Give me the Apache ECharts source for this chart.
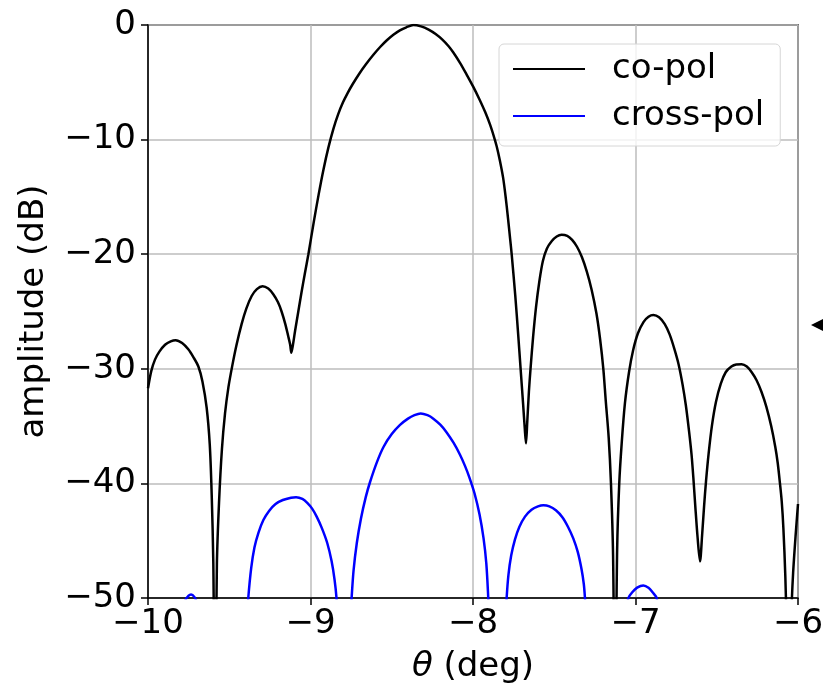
<!DOCTYPE html>
<html>
<head>
<meta charset="utf-8">
<script src="https://cdn.jsdelivr.net/npm/echarts@6/dist/echarts.min.js"></script>
<style>
  html, body { margin: 0; padding: 0; background: #fff; }
  #chart { width: 823px; height: 685px; }
</style>
</head>
<body>
<div id="chart"></div>
<script>
// values: [theta (deg), amplitude (dB)]
var xTicks = [-10, -9, -8, -7, -6];
var yTicks = [-50, -40, -30, -20, -10, 0];

// co-pol, points below -50 are the nulls (clipped by the grid)
var coPol = [
  [-10.000, -31.7], [-9.980, -30.2], [-9.957, -29.2], [-9.930, -28.5], [-9.895, -27.9],
  [-9.860, -27.6], [-9.830, -27.5], [-9.790, -27.75], [-9.752, -28.3], [-9.720, -29.0],
  [-9.690, -29.8], [-9.665, -31.1], [-9.639, -33.4], [-9.620, -36.6], [-9.608, -41.0],
  [-9.598, -47.0], [-9.588, -62.0],
  [-9.576, -47.0], [-9.563, -41.7], [-9.545, -37.0], [-9.526, -33.9], [-9.505, -31.6],
  [-9.481, -29.7], [-9.455, -27.9], [-9.424, -26.1], [-9.395, -24.75], [-9.362, -23.65],
  [-9.330, -23.05], [-9.295, -22.8], [-9.260, -23.0], [-9.229, -23.5], [-9.200, -24.2],
  [-9.178, -25.0], [-9.155, -26.1], [-9.138, -27.1], [-9.125, -27.9], [-9.118, -28.6],
  [-9.108, -27.9], [-9.095, -26.7], [-9.075, -25.0], [-9.055, -23.3], [-9.035, -21.7],
  [-9.013, -20.0], [-8.980, -17.2], [-8.950, -14.8], [-8.920, -12.6], [-8.890, -10.7],
  [-8.860, -9.1], [-8.830, -7.8], [-8.800, -6.75], [-8.770, -5.9], [-8.740, -5.15],
  [-8.700, -4.25], [-8.660, -3.45], [-8.613, -2.6], [-8.570, -1.9], [-8.530, -1.33],
  [-8.490, -0.85], [-8.450, -0.47], [-8.410, -0.2], [-8.367, 0.0],
  [-8.320, -0.12], [-8.273, -0.4], [-8.230, -0.78], [-8.190, -1.25], [-8.150, -1.85],
  [-8.121, -2.4], [-8.080, -3.3], [-8.040, -4.3], [-7.998, -5.4], [-7.960, -6.5],
  [-7.925, -7.6], [-7.895, -8.7], [-7.870, -9.8], [-7.854, -10.6], [-7.835, -11.8],
  [-7.815, -13.3], [-7.800, -14.9], [-7.785, -16.8], [-7.772, -18.6], [-7.762, -20.0],
  [-7.740, -23.6], [-7.722, -27.0], [-7.707, -30.0], [-7.692, -33.0], [-7.681, -35.3],
  [-7.674, -36.5],
  [-7.666, -34.6], [-7.656, -32.0], [-7.646, -30.0], [-7.630, -27.2], [-7.612, -24.6],
  [-7.592, -22.4], [-7.570, -20.6], [-7.545, -19.5], [-7.515, -18.85], [-7.485, -18.45],
  [-7.455, -18.3], [-7.420, -18.4], [-7.390, -18.75], [-7.360, -19.35], [-7.330, -20.25],
  [-7.300, -21.5], [-7.270, -23.1], [-7.240, -25.2], [-7.218, -27.4], [-7.198, -30.0],
  [-7.183, -32.8], [-7.165, -36.0], [-7.151, -40.0], [-7.138, -46.3], [-7.126, -62.0],
  [-7.113, -45.8], [-7.100, -40.0], [-7.085, -36.5], [-7.065, -33.0], [-7.040, -30.3],
  [-7.015, -28.4], [-6.985, -26.9], [-6.950, -25.9], [-6.920, -25.45], [-6.890, -25.3],
  [-6.855, -25.5], [-6.820, -26.1], [-6.790, -27.0], [-6.760, -28.3], [-6.735, -29.6],
  [-6.710, -31.4], [-6.690, -33.2], [-6.670, -35.5], [-6.655, -37.5], [-6.644, -39.5],
  [-6.632, -42.0], [-6.618, -44.7], [-6.603, -46.8],
  [-6.590, -44.5], [-6.578, -42.0], [-6.566, -39.8], [-6.550, -37.4], [-6.530, -35.0],
  [-6.505, -32.9], [-6.475, -31.3], [-6.445, -30.3], [-6.410, -29.8], [-6.380, -29.62],
  [-6.347, -29.6], [-6.315, -29.8], [-6.285, -30.3], [-6.255, -31.0], [-6.225, -32.0],
  [-6.195, -33.3], [-6.165, -35.0], [-6.140, -36.8], [-6.125, -38.2], [-6.111, -40.0],
  [-6.100, -41.6], [-6.090, -43.9], [-6.078, -48.1], [-6.066, -55.0], [-6.058, -65.0],
  [-6.050, -56.0], [-6.040, -51.0], [-6.030, -47.8], [-6.015, -44.6], [-6.000, -41.8]
];

// cross-pol lobes; a null amplitude breaks the line between them
var crossPol = [
  [-9.785, -52.0], [-9.770, -50.2], [-9.750, -49.8], [-9.735, -49.7], [-9.715, -49.9],
  [-9.700, -50.4], [-9.690, -51.5], [-9.600, null],
  [-9.392, -52.0], [-9.383, -50.0], [-9.365, -47.4], [-9.345, -45.6], [-9.320, -44.3],
  [-9.290, -43.2], [-9.255, -42.4], [-9.215, -41.8], [-9.170, -41.45], [-9.120, -41.25],
  [-9.089, -41.2], [-9.050, -41.35], [-9.020, -41.7], [-8.990, -42.2], [-8.962, -42.9],
  [-8.930, -43.9], [-8.897, -45.2], [-8.870, -46.8], [-8.852, -48.4], [-8.840, -50.0],
  [-8.832, -52.0], [-8.800, null],
  [-8.760, -53.0], [-8.747, -50.0], [-8.735, -47.6], [-8.715, -45.2], [-8.690, -43.1],
  [-8.660, -41.2], [-8.634, -39.9], [-8.590, -38.1], [-8.550, -36.8], [-8.500, -35.7],
  [-8.449, -34.9], [-8.400, -34.35], [-8.360, -34.05], [-8.322, -33.9], [-8.280, -34.05],
  [-8.244, -34.35], [-8.200, -34.9], [-8.162, -35.55], [-8.120, -36.45], [-8.080, -37.5],
  [-8.050, -38.45], [-8.023, -39.45], [-7.990, -40.9], [-7.960, -42.7], [-7.935, -44.8],
  [-7.918, -47.0], [-7.906, -50.0], [-7.898, -52.5], [-7.850, null],
  [-7.802, -52.5], [-7.793, -50.0], [-7.782, -48.0], [-7.765, -46.3], [-7.742, -44.9],
  [-7.715, -43.8], [-7.680, -42.9], [-7.640, -42.3], [-7.600, -42.0], [-7.567, -41.9],
  [-7.530, -42.0], [-7.490, -42.35], [-7.450, -42.95], [-7.415, -43.8], [-7.383, -44.8],
  [-7.355, -46.0], [-7.332, -47.5], [-7.318, -48.8], [-7.311, -50.0], [-7.302, -52.0],
  [-7.200, null],
  [-7.060, -51.5], [-7.044, -50.0], [-7.020, -49.5], [-6.990, -49.1], [-6.952, -48.9],
  [-6.920, -49.1], [-6.895, -49.5], [-6.870, -50.0], [-6.858, -51.5]
];

function minus(v) {
  return v < 0 ? '\u2212' + Math.abs(v) : String(v);
}

var font = 'DejaVu Sans';
var chart = echarts.init(document.getElementById('chart'), null, { renderer: 'canvas' });
chart.setOption({
  animation: false,
  backgroundColor: '#fff',
  textStyle: { fontFamily: font },
  grid: {
    left: 148, right: 25, top: 25, bottom: 87,
    outerBoundsMode: 'none',
    containLabel: false,
    show: true, borderColor: '#000', borderWidth: 1.5, backgroundColor: 'transparent'
  },
  legend: {
    left: 499, top: 44,
    orient: 'vertical',
    padding: [8, 16, 13, 13],
    itemWidth: 72, itemHeight: 40, itemGap: 13,
    backgroundColor: 'rgba(255,255,255,0.8)',
    borderColor: '#d6d6d6', borderWidth: 1, borderRadius: 5,
    itemStyle: { opacity: 0 },
    textStyle: { fontFamily: font, fontSize: 34, color: '#000', padding: [0, 0, 0, 22] },
    data: ['co-pol', 'cross-pol']
  },
  xAxis: {
    type: 'value',
    min: xTicks[0], max: xTicks[xTicks.length - 1], interval: 1,
    name: '{i|θ} (deg)',
    nameLocation: 'middle', nameGap: 52,
    nameTextStyle: {
      fontFamily: font, fontSize: 34, color: '#000',
      rich: { i: { fontFamily: font, fontSize: 34, fontStyle: 'italic', color: '#000' } }
    },
    axisLine: { show: true, onZero: false, lineStyle: { color: '#000', width: 1.5 } },
    axisTick: { show: true, inside: false, length: 7, lineStyle: { color: '#000', width: 1.5 } },
    axisLabel: { fontFamily: font, fontSize: 34, color: '#000', margin: 9, formatter: minus },
    splitLine: { show: true, lineStyle: { color: '#bdbdbd', width: 1.5 } }
  },
  yAxis: {
    type: 'value',
    min: yTicks[0], max: yTicks[yTicks.length - 1], interval: 10,
    name: 'amplitude (dB)',
    nameLocation: 'middle', nameGap: 97,
    nameTextStyle: { fontFamily: font, fontSize: 34, color: '#000' },
    axisLine: { show: true, onZero: false, lineStyle: { color: '#000', width: 1.5 } },
    axisTick: { show: true, inside: false, length: 7, lineStyle: { color: '#000', width: 1.5 } },
    axisLabel: { fontFamily: font, fontSize: 34, color: '#000', margin: 12, formatter: minus },
    splitLine: { show: true, lineStyle: { color: '#bdbdbd', width: 1.5 } }
  },
  series: [{
    name: 'co-pol',
    type: 'line',
    data: coPol,
    symbol: 'none', showSymbol: false,
    smooth: 0.3,
    clip: true,
    lineStyle: { color: '#000', width: 2.5 },
    itemStyle: { color: '#000' }
  }, {
    name: 'cross-pol',
    type: 'line',
    data: crossPol,
    symbol: 'none', showSymbol: false,
    smooth: 0.3,
    connectNulls: false,
    clip: true,
    lineStyle: { color: '#0000ff', width: 2.5 },
    itemStyle: { color: '#0000ff' }
  }],
  graphic: [{
    // arrow head peeking in at the right edge
    type: 'polygon',
    shape: { points: [[811, 325], [825, 318], [825, 332]] },
    style: { fill: '#000' }
  }]
});
</script>
</body>
</html>
